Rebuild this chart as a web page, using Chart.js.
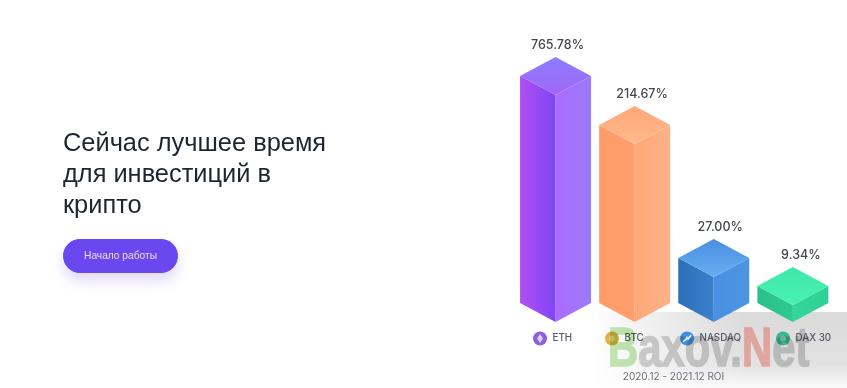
<!DOCTYPE html>
<html><head><meta charset="utf-8">
<script src="https://cdn.jsdelivr.net/npm/chart.js@4"></script>
<style>
html,body{margin:0;padding:0;background:#fff;width:847px;height:388px;overflow:hidden;font-family:"Liberation Sans",Arial,sans-serif}
#wrap{position:relative;width:847px;height:388px;filter:blur(.55px);background:#fff}
canvas{position:absolute;left:0;top:0}
h1{position:absolute;left:63px;top:127px;margin:0;font-weight:400;font-size:25.4px;line-height:31px;color:#1e2530;white-space:nowrap}
#btn{position:absolute;left:63px;top:239px;width:115px;height:34px;border-radius:17px;background:#6b47ef;color:#e9e2ff;font-size:10.2px;line-height:34px;text-align:center;box-shadow:0 8px 14px rgba(107,71,239,.2)}
#band{position:absolute;left:590px;top:312px;width:257px;height:76px;background:linear-gradient(to bottom,rgba(218,218,218,1) 0,rgba(226,226,226,1) 70%,rgba(250,250,250,1) 100%);-webkit-mask-image:linear-gradient(to right,transparent,rgba(0,0,0,.55) 30%,#000 60%);mask-image:linear-gradient(to right,transparent,rgba(0,0,0,.55) 30%,#000 60%)}
#mark{position:absolute;left:608px;top:317px;font:700 55px "Liberation Sans",sans-serif;line-height:60px;transform-origin:0 0;transform:scaleX(.76);white-space:nowrap;color:#d2d2d2;-webkit-text-stroke:1.5px #d2d2d2;mix-blend-mode:multiply}
#mark .g{color:#c4e8b4;-webkit-text-stroke-color:#c4e8b4}
#mark .r{color:#ffbcb4;-webkit-text-stroke-color:#ffbcb4}
</style></head><body>
<div id="wrap">
<div id="band"></div>
<canvas id="c" width="847" height="388"></canvas>
<h1>Сейчас лучшее время<br>для инвестиций в<br>крипто</h1>
<div id="btn">Начало работы</div>
<div id="mark"><span class="g">B</span>axov.<span class="r">N</span>et</div>
</div>
<script>
const categories = ['ETH', 'BTC', 'NASDAQ', 'DAX 30'];
const roiPercent = [765.78, 214.67, 27.00, 9.34];
// The artwork's columns are not drawn to scale with the ROI labels: these are the heights.
const columnHeights = [227, 178, 45, 17];
const caption = '2020.12 - 2021.12 ROI';

const palette = [
  {l0:'#b04ff0', l1:'#7f45f6', r0:'#ab6bff', r1:'#9a7bfb', t0:'#8a7dff', t1:'#a267f7', icon:'#8b5fe0'},
  {l0:'#ff9c68', l1:'#ff9f6e', r0:'#ffa877', r1:'#ffb088', t0:'#ffa777', t1:'#ffb98c', icon:'#e6b040'},
  {l0:'#2c70b8', l1:'#3a80cc', r0:'#4a90e2', r1:'#4d94e2', t0:'#4a8fe2', t1:'#66aef0', icon:'#3f8fe0'},
  {l0:'#2ac08a', l1:'#2fc992', r0:'#34d69b', r1:'#2fd096', t0:'#3ee8a8', t1:'#4af2b2', icon:'#35b98a'}
];
const DY = 19;
const valueLabelShift = [2, 7.5, 6.5, 8];
const iconShift = [-15.5, -22.6, -26.7, -9.8];

function poly(ctx, pts, fill){
  ctx.beginPath();
  pts.forEach((p,i)=> i ? ctx.lineTo(p[0],p[1]) : ctx.moveTo(p[0],p[1]));
  ctx.closePath(); ctx.fillStyle = fill; ctx.fill();
}
class IsoBar extends Chart.BarElement {
  draw(ctx){
    const {x,y,base,width} = this.getProps(['x','y','base','width']);
    const idx = Chart.getChart(ctx.canvas).getDatasetMeta(0).data.indexOf(this);
    const p = palette[idx];
    const hw = width/2, L = x-hw, R = x+hw;
    let g = ctx.createLinearGradient(L,0,x,0); g.addColorStop(0,p.l0); g.addColorStop(1,p.l1);
    poly(ctx,[[L,y-DY],[x,y],[x,base],[L,base-DY]],g);
    g = ctx.createLinearGradient(x,0,R,0); g.addColorStop(0,p.r0); g.addColorStop(1,p.r1);
    poly(ctx,[[x,y],[R,y-DY],[R,base-DY],[x,base]],g);
    g = ctx.createLinearGradient(x,y-2*DY,x,y); g.addColorStop(0,p.t0); g.addColorStop(1,p.t1);
    poly(ctx,[[x,y-2*DY],[R,y-DY],[x,y],[L,y-DY]],g);
  }
}
IsoBar.id = 'isoBar';
IsoBar.defaults = Object.assign({}, Chart.BarElement.defaults);
class IsoBarController extends Chart.BarController {}
IsoBarController.id = 'isoBar';
IsoBarController.defaults = Object.assign({}, Chart.BarController.defaults, {dataElementType:'isoBar'});
IsoBarController.overrides = Chart.BarController.overrides;
Chart.register(IsoBar, IsoBarController);

function glyph(ctx, i, cx, cy){
  ctx.fillStyle = 'rgba(255,255,255,.6)'; ctx.strokeStyle = '#fff'; ctx.lineWidth = 1.4;
  if (i === 0) { poly(ctx,[[cx,cy-4.5],[cx+3,cy],[cx,cy+4.5],[cx-3,cy]],'rgba(255,255,255,.7)'); }
  else if (i === 2) {
    ctx.beginPath(); ctx.moveTo(cx-4,cy+3); ctx.lineTo(cx-1,cy+1); ctx.lineTo(cx,cy-1); ctx.lineTo(cx+1,cy+.5); ctx.lineTo(cx+4,cy-3.5); ctx.stroke();
  } else {
    ctx.beginPath(); ctx.arc(cx,cy,3,0,Math.PI*2); ctx.fillStyle='rgba(255,255,255,.4)'; ctx.fill();
  }
}

const annotate = {
  id:'annotate',
  afterDatasetsDraw(chart){
    const ctx = chart.ctx, meta = chart.getDatasetMeta(0), xs = chart.scales.x;
    ctx.save();
    meta.data.forEach((bar,i)=>{
      ctx.font = '500 12.5px Inter, sans-serif';
      ctx.fillStyle = '#44474f'; ctx.textAlign = 'center'; ctx.textBaseline = 'middle';
      ctx.fillText(roiPercent[i].toFixed(2)+'%', bar.x+valueLabelShift[i], bar.y-50);
      const label = xs.getLabelForValue(i);
      const cx = bar.x + iconShift[i], cy = 338.5;
      ctx.beginPath(); ctx.arc(cx,cy,7,0,Math.PI*2); ctx.fillStyle = palette[i].icon; ctx.fill();
      glyph(ctx, i, cx, cy);
      ctx.font = '500 9.8px Inter, sans-serif';
      ctx.fillStyle = '#555a66'; ctx.textAlign = 'left';
      ctx.fillText(label, cx+12.5, cy);
    });
    ctx.font = '400 10px Inter, sans-serif';
    ctx.fillStyle = '#6d7078'; ctx.textAlign = 'center';
    ctx.fillText(caption, 673.5, 377);
    ctx.restore();
  }
};

new Chart(document.getElementById('c'), {
  type:'isoBar',
  data:{labels:categories, datasets:[{data:columnHeights, barPercentage:71/79.1, categoryPercentage:1, backgroundColor:'#8f5cf6'}]},
  options:{
    responsive:false, animation:false,
    layout:{padding:{left:516, right:14.6, top:22, bottom:66}},
    plugins:{legend:{display:false}, tooltip:{enabled:false}},
    scales:{
      x:{type:'category', display:false, offset:true},
      y:{type:'linear', display:false, min:0, max:300}
    }
  },
  plugins:[annotate]
});
</script>
</body></html>
